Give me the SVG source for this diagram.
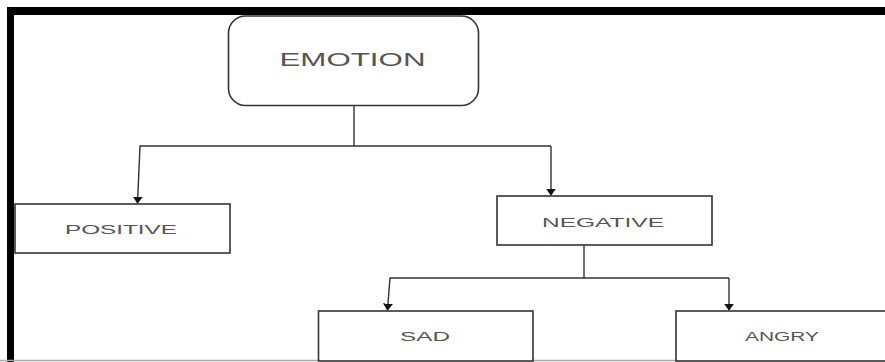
<svg xmlns="http://www.w3.org/2000/svg" width="885" height="362" viewBox="0 0 885 362">
<style>
.box{fill:#fff;stroke:#333;stroke-width:1.6}
.lbl{font-family:"Liberation Sans",Arial,sans-serif;fill:#555;text-anchor:middle}
.con{fill:none;stroke:#333;stroke-width:1.4}
</style>
<defs>
<marker id="ah" viewBox="0 0 10 10" refX="9" refY="5" markerWidth="7" markerHeight="10" preserveAspectRatio="none" markerUnits="userSpaceOnUse" orient="auto">
<path d="M0,0 L10,5 L0,10 z" fill="#111"/>
</marker>
</defs>
<rect width="885" height="362" fill="#fff"/>
<g id="frame">
<rect x="7" y="7" width="878" height="8" fill="#000"/>
<rect x="7" y="7" width="7" height="355" fill="#000"/>
<line x1="0" y1="360.5" x2="885" y2="360.5" stroke="#aaa" stroke-width="1.5"/>
</g>
<g id="connectors">
<path class="con" d="M354,106 V146"/>
<path class="con" d="M551,146 H140 L137.5,203" marker-end="url(#ah)"/>
<path class="con" d="M551,146 V195" marker-end="url(#ah)"/>
<path class="con" d="M584,245 V278"/>
<path class="con" d="M729,278 H390 L387.5,310" marker-end="url(#ah)"/>
<path class="con" d="M729,278 V310" marker-end="url(#ah)"/>
</g>
<g id="emotion">
<rect class="box" x="228.5" y="16" width="250" height="89.5" rx="17"/>
<text class="lbl" x="352.5" y="66" font-size="18.5" textLength="146" lengthAdjust="spacingAndGlyphs">EMOTION</text>
</g>
<g id="positive">
<rect class="box" x="15" y="204" width="215" height="49"/>
<text class="lbl" x="121" y="233.5" font-size="13" textLength="112" lengthAdjust="spacingAndGlyphs">POSITIVE</text>
</g>
<g id="negative">
<rect class="box" x="497" y="196" width="215" height="49"/>
<text class="lbl" x="603" y="226.5" font-size="13" textLength="122" lengthAdjust="spacingAndGlyphs">NEGATIVE</text>
</g>
<g id="sad">
<rect class="box" x="318.5" y="311" width="214.5" height="50"/>
<text class="lbl" x="425" y="341" font-size="12.5" textLength="50" lengthAdjust="spacingAndGlyphs">SAD</text>
</g>
<g id="angry">
<rect class="box" x="676" y="311" width="230" height="50"/>
<text class="lbl" x="782" y="341" font-size="12.5" textLength="74" lengthAdjust="spacingAndGlyphs">ANGRY</text>
</g>
</svg>
